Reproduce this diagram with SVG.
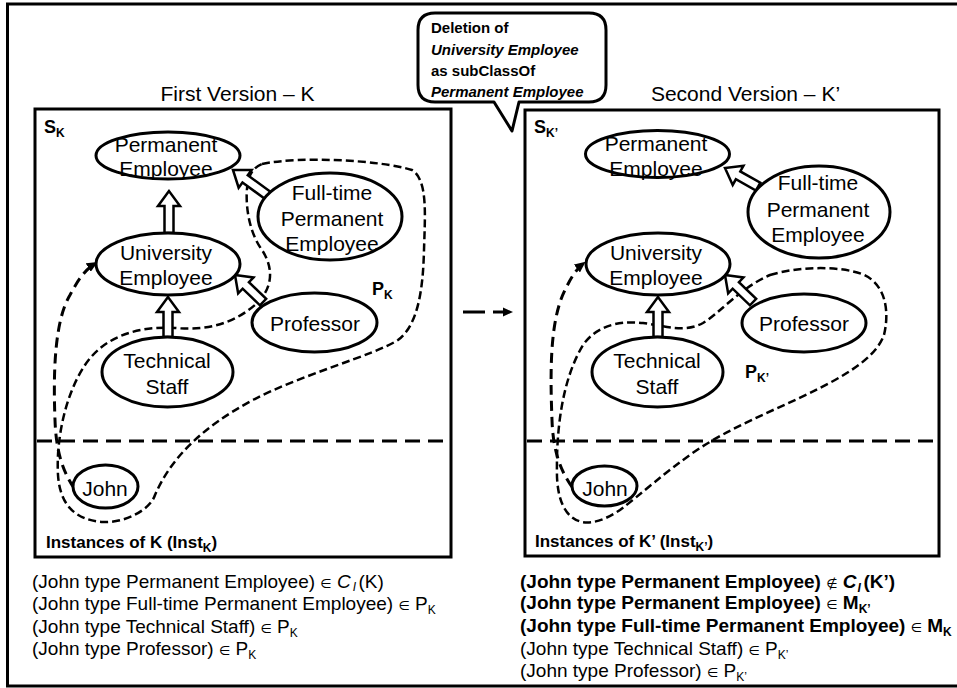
<svg xmlns="http://www.w3.org/2000/svg" width="957" height="688" viewBox="0 0 957 688">
  <defs>
    <style>
      .frame { fill: none; stroke: #000; stroke-width: 3; }
      .box { fill: #fff; stroke: #000; stroke-width: 3; }
      .sep { fill: none; stroke: #000; stroke-width: 3; stroke-dasharray: 15 8; }
      .node ellipse { fill: #fff; stroke: #000; stroke-width: 3; }
      .lbl { font-family: "Liberation Sans", Arial, sans-serif; font-size: 21px; text-anchor: middle; fill: #000; }
      .title { font-family: "Liberation Sans", Arial, sans-serif; font-size: 21px; text-anchor: middle; fill: #000; }
      .tag { font-family: "Liberation Sans", Arial, sans-serif; font-size: 18px; font-weight: bold; fill: #000; }
      .inst { font-family: "Liberation Sans", Arial, sans-serif; font-size: 17px; font-weight: bold; fill: #000; }
      .sub { font-size: 12px; }
      .fact { font-family: "Liberation Sans", "DejaVu Sans", Arial, sans-serif; font-size: 19px; fill: #000; }
      .bold { font-weight: bold; }
      .sym { font-family: "DejaVu Sans", sans-serif; font-size: 13px; font-weight: normal; }
      .hollow { fill: #fff; stroke: #000; stroke-width: 2.5; stroke-linejoin: miter; }
      .region { fill: none; stroke: #000; stroke-width: 2.5; stroke-dasharray: 8 4; }
      .inf { fill: none; stroke: #000; stroke-width: 3; stroke-dasharray: 10 6; }
      .callout { fill: #fff; stroke: #000; stroke-width: 3; stroke-linejoin: round; }
      .ctext { font-family: "Liberation Sans", Arial, sans-serif; font-size: 15px; font-weight: bold; fill: #000; }
    </style>
    <marker id="head" markerUnits="userSpaceOnUse" markerWidth="11" markerHeight="10" refX="9" refY="5" orient="auto">
      <path d="M0,0 L11,5 L0,10 Z" fill="#000"/>
    </marker>
  </defs>

  <rect width="957" height="688" fill="#fff"/>
  <!-- outer frame (right edge runs past the canvas) -->
  <rect class="frame" x="7.5" y="4" width="960" height="682"/>

  <!-- version titles -->
  <text class="title" x="237.5" y="101">First Version – K</text>
  <text class="title" x="745.5" y="101">Second Version – K’</text>

  <!-- version boxes -->
  <rect class="box" x="35" y="109" width="416" height="448"/>
  <rect class="box" x="525" y="110" width="414" height="446"/>
  <line class="sep" x1="37" y1="441" x2="450" y2="441"/>
  <line class="sep" x1="527" y1="441" x2="938" y2="441"/>

  <!-- schema / region / instance tags -->
  <text class="tag" x="44" y="133">S<tspan class="sub" dy="4">K</tspan></text>
  <text class="tag" x="534" y="133">S<tspan class="sub" dy="4">K’</tspan></text>
  <text class="tag" x="372" y="295">P<tspan class="sub" dy="4">K</tspan></text>
  <text class="tag" x="745" y="378">P<tspan class="sub" dy="4">K’</tspan></text>
  <text class="inst" x="46" y="548">Instances of K (Inst<tspan class="sub" dy="4">K</tspan><tspan dy="-4">)</tspan></text>
  <text class="inst" x="535" y="547">Instances of K’ (Inst<tspan class="sub" dy="4">K’</tspan><tspan dy="-4">)</tspan></text>

  <!-- dashed regions P_K and P_K' -->
  <g id="regions">
    <path class="region" d="M 262,164 C 300,156 380,160 412,170 C 428,180 425,215 424,250 C 423,290 418,325 398,340 C 375,355 300,375 253,400 C 200,428 170,460 155,495 C 150,510 125,523 103,522 C 75,520 60,505 58,475 C 56,440 65,395 85,365 C 105,335 140,326 175,328 C 210,331 235,322 255,305 C 272,290 275,270 262,250 C 246,228 245,195 248,182 C 250,172 255,167 262,164 Z"/>
    <path class="region" d="M 770,275 C 800,266 840,266 862,274 C 885,283 890,310 884,335 C 875,360 840,378 810,393 C 770,412 730,428 697,450 C 665,472 640,495 620,510 C 605,520 592,524 582,522 C 565,518 558,500 557,477 C 556,430 562,380 583,345 C 595,328 615,320 643,323 C 665,326 685,333 703,323 C 720,313 740,288 770,275 Z"/>
  </g>

  <!-- connectors -->
  <g id="connectors">
    <!-- subclass arrows, first version -->
    <polygon class="hollow" transform="translate(169,191)" points="0,0 -11,15 -4.5,15 -4.5,42 4.5,42 4.5,15 11,15"/>
    <polygon class="hollow" transform="translate(168,297)" points="0,0 -11,15 -4.5,15 -4.5,40 4.5,40 4.5,15 11,15"/>
    <polygon class="hollow" transform="translate(233,170) rotate(-53.9)" points="0,0 -11,15 -4.5,15 -4.5,46 4.5,46 4.5,15 11,15"/>
    <polygon class="hollow" transform="translate(235,275) rotate(-46)" points="0,0 -11,15 -4.5,15 -4.5,39 4.5,39 4.5,15 11,15"/>
    <!-- subclass arrows, second version -->
    <polygon class="hollow" transform="translate(658,297)" points="0,0 -11,15 -4.5,15 -4.5,40 4.5,40 4.5,15 11,15"/>
    <polygon class="hollow" transform="translate(725,168) rotate(-60.7)" points="0,0 -11,15 -4.5,15 -4.5,38 4.5,38 4.5,15 11,15"/>
    <polygon class="hollow" transform="translate(725,275) rotate(-46)" points="0,0 -11,15 -4.5,15 -4.5,39 4.5,39 4.5,15 11,15"/>
    <!-- instance-of links from John -->
    <path class="inf" marker-end="url(#head)" d="M 74,488 C 62,470 56,450 55,420 C 53,370 55,320 70,295 C 77,282 84,270 96,263"/>
    <path class="inf" marker-end="url(#head)" d="M 572,487 C 560,470 553,450 552,420 C 550,370 550,320 565,290 C 570,280 575,270 584,263"/>
    <!-- transition between versions -->
    <line x1="463" y1="312" x2="504" y2="312" stroke="#000" stroke-width="3" stroke-dasharray="22 8"/>
    <polygon points="503,307.5 513,312 503,316.5" fill="#000"/>
  </g>

  <!-- first version nodes -->
  <g id="k-permanent-employee" class="node">
    <ellipse cx="168" cy="155.5" rx="72" ry="23.5"/>
    <text class="lbl" x="166" y="152">Permanent</text>
    <text class="lbl" x="166" y="176">Employee</text>
  </g>
  <g id="k-fulltime-permanent-employee" class="node">
    <ellipse cx="330" cy="216.5" rx="72" ry="43.5"/>
    <text class="lbl" x="332" y="200">Full-time</text>
    <text class="lbl" x="332" y="226">Permanent</text>
    <text class="lbl" x="332" y="251">Employee</text>
  </g>
  <g id="k-university-employee" class="node">
    <ellipse cx="168" cy="264" rx="72" ry="31"/>
    <text class="lbl" x="166" y="260">University</text>
    <text class="lbl" x="166" y="285">Employee</text>
  </g>
  <g id="k-professor" class="node">
    <ellipse cx="314.5" cy="322.5" rx="62.5" ry="29.5"/>
    <text class="lbl" x="315" y="331">Professor</text>
  </g>
  <g id="k-technical-staff" class="node">
    <ellipse cx="167.5" cy="372" rx="65.5" ry="35"/>
    <text class="lbl" x="167" y="368">Technical</text>
    <text class="lbl" x="167" y="394">Staff</text>
  </g>
  <g id="k-john" class="node">
    <ellipse cx="105.5" cy="486.5" rx="32.5" ry="21.5"/>
    <text class="lbl" x="105" y="496">John</text>
  </g>

  <!-- second version nodes -->
  <g id="k2-permanent-employee" class="node">
    <ellipse cx="657.5" cy="154" rx="72" ry="23.5"/>
    <text class="lbl" x="656" y="151">Permanent</text>
    <text class="lbl" x="656" y="176">Employee</text>
  </g>
  <g id="k2-fulltime-permanent-employee" class="node">
    <ellipse cx="819" cy="212" rx="71" ry="46"/>
    <text class="lbl" x="818" y="190">Full-time</text>
    <text class="lbl" x="818" y="217">Permanent</text>
    <text class="lbl" x="818" y="242">Employee</text>
  </g>
  <g id="k2-university-employee" class="node">
    <ellipse cx="658" cy="264" rx="72" ry="31"/>
    <text class="lbl" x="656" y="260">University</text>
    <text class="lbl" x="656" y="285">Employee</text>
  </g>
  <g id="k2-professor" class="node">
    <ellipse cx="804" cy="323" rx="62" ry="29"/>
    <text class="lbl" x="804" y="331">Professor</text>
  </g>
  <g id="k2-technical-staff" class="node">
    <ellipse cx="657.5" cy="372" rx="65.5" ry="35"/>
    <text class="lbl" x="657" y="368">Technical</text>
    <text class="lbl" x="657" y="394">Staff</text>
  </g>
  <g id="k2-john" class="node">
    <ellipse cx="604.5" cy="486" rx="32.5" ry="20"/>
    <text class="lbl" x="605" y="496">John</text>
  </g>

  <!-- change callout -->
  <g id="change-callout">
    <path class="callout" d="M 435,13 H 589 Q 606,13 606,30 V 85 Q 606,102 589,102 H 519 L 512,131 L 494,102 H 435 Q 418,102 418,85 V 30 Q 418,13 435,13 Z"/>
    <text class="ctext" x="431" y="33">Deletion of</text>
    <text class="ctext" x="431" y="55" font-style="italic">University Employee</text>
    <text class="ctext" x="431" y="76">as subClassOf</text>
    <text class="ctext" x="431" y="97" font-style="italic">Permanent Employee</text>
  </g>

  <!-- facts, first version -->
  <g id="facts-k">
    <text class="fact" x="32" y="588">(John type Permanent Employee) <tspan class="sym">∈</tspan> <tspan font-style="italic">C</tspan><tspan font-style="italic" class="sub" dx="2" dy="3">I</tspan><tspan dx="2.5" dy="-3">(K)</tspan></text>
    <text class="fact" x="32" y="610">(John type Full-time Permanent Employee) <tspan class="sym">∈</tspan> P<tspan class="sub" dy="4">K</tspan></text>
    <text class="fact" x="32" y="633">(John type Technical Staff) <tspan class="sym">∈</tspan> P<tspan class="sub" dy="4">K</tspan></text>
    <text class="fact" x="32" y="655">(John type Professor) <tspan class="sym">∈</tspan> P<tspan class="sub" dy="4">K</tspan></text>
  </g>

  <!-- facts, second version -->
  <g id="facts-k2">
    <text class="fact bold" x="520" y="588">(John type Permanent Employee) <tspan class="sym">∉</tspan> <tspan font-style="italic">C</tspan><tspan font-style="italic" class="sub" dx="1" dy="4">I</tspan><tspan dx="2.5" dy="-4">(K’)</tspan></text>
    <text class="fact bold" x="520" y="609">(John type Permanent Employee) <tspan class="sym">∈</tspan> M<tspan class="sub" dy="4">K’</tspan></text>
    <text class="fact bold" x="520" y="632">(John type Full-time Permanent Employee) <tspan class="sym">∈</tspan> M<tspan class="sub" dy="4">K</tspan></text>
    <text class="fact" x="520" y="655">(John type Technical Staff) <tspan class="sym">∈</tspan> P<tspan class="sub" dy="4">K’</tspan></text>
    <text class="fact" x="520" y="677">(John type Professor) <tspan class="sym">∈</tspan> P<tspan class="sub" dy="4">K’</tspan></text>
  </g>
</svg>
